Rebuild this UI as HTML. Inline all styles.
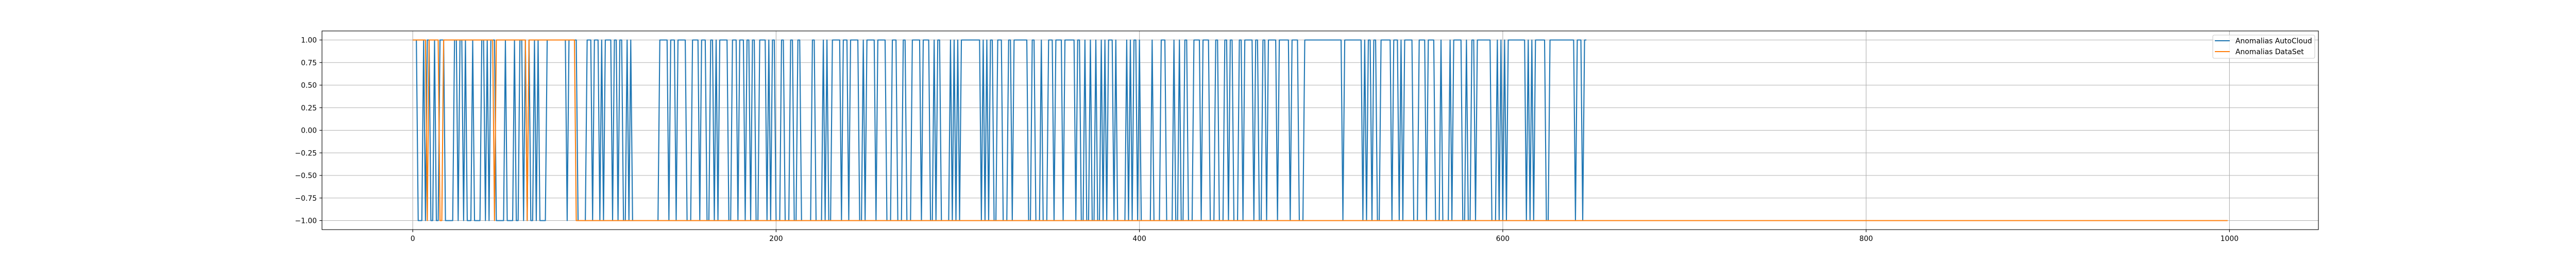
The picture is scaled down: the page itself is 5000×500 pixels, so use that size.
<!DOCTYPE html>
<html><head><meta charset="utf-8"><style>
html,body{margin:0;padding:0;background:#fff;}
svg{display:block;font-family:"DejaVu Sans","Liberation Sans",sans-serif;}
</style></head><body>
<svg id="chart" width="5000" height="500" viewBox="0 0 5000 500" xmlns="http://www.w3.org/2000/svg">
<rect x="0" y="0" width="5000" height="500" fill="#fff"/>
<g id="grid"></g>
<g id="series"></g>
<rect x="625" y="60" width="3875" height="385" fill="none" stroke="#000" stroke-width="1.1"/>
<g id="ticks"></g>
<g>
<rect x="4295" y="68" width="198" height="45" rx="3" fill="#fff" fill-opacity="0.8" stroke="#ccc" stroke-width="1.1"/>
<line x1="4299" y1="79" x2="4328" y2="79" stroke="#1f77b4" stroke-width="2.1"/>
<text x="4339" y="84" font-size="13.9" fill="#000">Anomalias AutoCloud</text>
<line x1="4299" y1="100" x2="4328" y2="100" stroke="#ff7f0e" stroke-width="2.1"/>
<text x="4339" y="105" font-size="13.9" fill="#000">Anomalias DataSet</text>
</g>
</svg>
<script>
// Blue series: index intervals [start,end] where value = 1 (else -1), length 647
const blueLength = 647;
const blueHighRuns = [[0,2],[6,6],[8,9],[12,12],[15,17],[23,24],[26,27],[29,29],[33,33],[38,39],[41,41],[43,44],[45,45],[51,51],[56,56],[59,60],[62,62],[64,64],[67,67],[69,69],[74,84],[86,90],[96,98],[100,102],[104,104],[106,109],[111,112],[114,115],[118,118],[120,120],[136,140],[142,144],[146,150],[154,157],[159,161],[164,165],[167,167],[169,173],[176,178],[180,182],[184,185],[187,188],[191,194],[196,196],[198,199],[203,204],[208,209],[212,213],[220,221],[226,226],[228,228],[231,235],[237,239],[241,245],[248,248],[250,254],[256,260],[264,266],[270,271],[275,279],[281,284],[287,287],[289,290],[296,296],[298,298],[300,300],[302,312],[314,314],[316,316],[318,319],[322,324],[328,329],[331,338],[341,342],[346,346],[350,352],[354,357],[359,364],[366,367],[370,370],[373,373],[376,376],[379,379],[381,381],[383,385],[387,387],[393,393],[395,395],[397,398],[400,400],[407,407],[412,414],[419,419],[422,422],[425,426],[430,433],[435,438],[442,443],[447,448],[450,451],[455,456],[458,462],[464,465],[468,469],[471,475],[477,482],[484,487],[491,511],[513,522],[524,524],[526,527],[529,530],[533,538],[540,542],[544,544],[546,550],[554,557],[559,562],[566,566],[571,571],[573,577],[580,580],[583,584],[586,593],[597,597],[599,599],[601,601],[603,612],[614,614],[616,616],[618,623],[626,639],[641,643],[645,646]];
// Orange series: length 1000
const orangeLength = 1000;
const orangeHighRuns = [[0,7],[9,14],[17,44],[46,62],[64,89]];
const xTicks = [0,200,400,600,800,1000];
const yTicks = [1.00,0.75,0.50,0.25,0.00,-0.25,-0.50,-0.75,-1.00];
const yTickLabels = ["1.00","0.75","0.50","0.25","0.00","\u22120.25","\u22120.50","\u22120.75","\u22121.00"];

const L=625,R=4500,T=60,B=445;
const xMin=-49.95,xMax=1048.95,yMin=-1.1,yMax=1.1;
function xs(v){return L+(v-xMin)/(xMax-xMin)*(R-L);}
function ys(v){return B-(v-yMin)/(yMax-yMin)*(B-T);}
const NS="http://www.w3.org/2000/svg";
function expand(len,runs){const a=new Array(len).fill(-1);runs.forEach(r=>{for(let i=r[0];i<=r[1]&&i<len;i++)a[i]=1;});return a;}
const blue=expand(blueLength,blueHighRuns);
const orange=expand(orangeLength,orangeHighRuns);

const grid=document.getElementById('grid');
const ticks=document.getElementById('ticks');
xTicks.forEach(t=>{
  const g=document.createElementNS(NS,'line');
  g.setAttribute('x1',xs(t));g.setAttribute('x2',xs(t));g.setAttribute('y1',T);g.setAttribute('y2',B);
  g.setAttribute('stroke','#b0b0b0');g.setAttribute('stroke-width','1.1');
  
  
  grid.appendChild(g);
  const tk=document.createElementNS(NS,'line');
  tk.setAttribute('x1',xs(t));tk.setAttribute('x2',xs(t));tk.setAttribute('y1',B);tk.setAttribute('y2',B+4.9);
  tk.setAttribute('stroke','#000');tk.setAttribute('stroke-width','1.1');
  
  
  ticks.appendChild(tk);
  const tx=document.createElementNS(NS,'text');
  tx.setAttribute('x',xs(t));tx.setAttribute('y',467);tx.setAttribute('text-anchor','middle');tx.setAttribute('font-size','13.9');
  tx.textContent=String(t);
  
  
  ticks.appendChild(tx);
});
yTicks.forEach((t,i)=>{
  const g=document.createElementNS(NS,'line');
  g.setAttribute('x1',L);g.setAttribute('x2',R);g.setAttribute('y1',ys(t));g.setAttribute('y2',ys(t));
  g.setAttribute('stroke','#b0b0b0');g.setAttribute('stroke-width','1.1');
  
  
  grid.appendChild(g);
  const tk=document.createElementNS(NS,'line');
  tk.setAttribute('x1',L-4.9);tk.setAttribute('x2',L);tk.setAttribute('y1',ys(t));tk.setAttribute('y2',ys(t));
  tk.setAttribute('stroke','#000');tk.setAttribute('stroke-width','1.1');
  
  
  ticks.appendChild(tk);
  const tx=document.createElementNS(NS,'text');
  tx.setAttribute('x',615);tx.setAttribute('y',ys(t)+5);tx.setAttribute('text-anchor','end');tx.setAttribute('font-size','13.9');
  tx.textContent=yTickLabels[i];
  
  
  ticks.appendChild(tx);
});
const series=document.getElementById('series');
function drawLine(vals,color,name){
  const p=document.createElementNS(NS,'polyline');
  p.setAttribute('points',vals.map((v,i)=>xs(i).toFixed(2)+','+ys(v).toFixed(2)).join(' '));
  p.setAttribute('fill','none');p.setAttribute('stroke',color);p.setAttribute('stroke-width','2.1');
  p.setAttribute('stroke-linejoin','round');
  
  
  series.appendChild(p);
}
drawLine(blue,'#1f77b4','line-anomalias-autocloud');
drawLine(orange,'#ff7f0e','line-anomalias-dataset');
</script>
</body></html>
